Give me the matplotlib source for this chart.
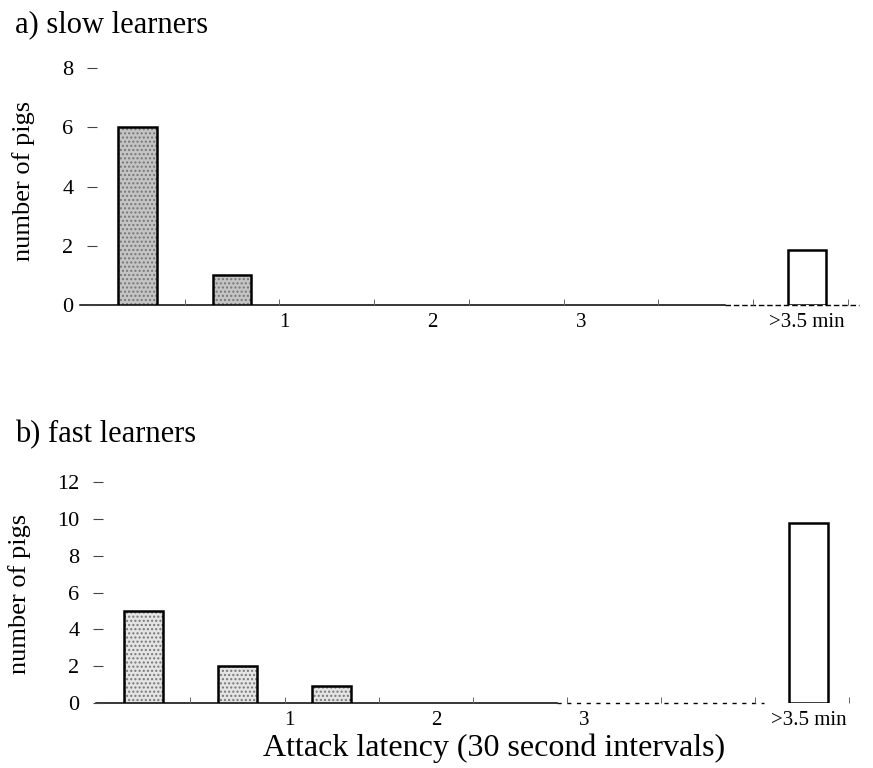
import numpy as np
import matplotlib
matplotlib.use("Agg")
import matplotlib.pyplot as plt

plt.rcParams['font.family'] = ['Liberation Serif', 'DejaVu Serif']

# データ: 30秒区間ごとの豚の頭数
bar_pos = [0, 1, 2, 3, 4, 5, 6, 7.07]          # 各区間の位置 (最後は >3.5 min)
slow_counts = [6, 1, 0, 0, 0, 0, 0, 1.85]
fast_counts = [5, 2, 0.9, 0, 0, 0, 0, 9.8]
tick_pos = [1.55, 3.11, 4.69, 7.07]
tick_labels = ['1', '2', '3', '>3.5 min']
edge_pos = [0.5, 1.5, 2.5, 3.5, 4.5, 5.5, 6.5, 7.5]

W, H = 873, 768
fig = plt.figure(figsize=(W / 100, H / 100), dpi=100)


def px_axes(x0, x1, ytop, ybot):
    return fig.add_axes([x0 / W, 1 - ybot / H, (x1 - x0) / W, (ybot - ytop) / H])


def draw_panel(ax, counts, fill, ymax, yticks, base_lo, base_split, base_hi, tail_style):
    pos = np.array(bar_pos)
    vals = np.array(counts)
    keep = vals > 0
    colors = [fill] * (len(vals) - 1) + ['white']
    colors = np.array(colors)[keep]
    # 点描風の塗り
    ax.bar(pos[keep], vals[keep], width=0.41, color=colors, edgecolor='#777777',
           hatch='....', linewidth=0, zorder=2)
    ax.bar(pos[keep][-1:], vals[keep][-1:], width=0.41, color='white', linewidth=0, zorder=2)
    ax.bar(pos[keep], vals[keep], width=0.41, fill=False, edgecolor='black',
           linewidth=1.8, zorder=3)
    # 基線
    ax.plot([base_lo, base_split], [0, 0], color='black', lw=1.1, clip_on=False, zorder=1)
    ax.plot([base_split, base_hi], [0, 0], color='black', lw=1.0, ls=tail_style,
            clip_on=False, zorder=1)
    ax.set_ylim(0, ymax)
    ax.set_yticks(yticks)
    ax.set_xticks(tick_pos)
    ax.set_xticklabels(tick_labels)
    ax.set_xticks(edge_pos, minor=True)
    for s in ax.spines.values():
        s.set_visible(False)
    ax.tick_params(axis='y', length=7, width=0.8, color='#444444', pad=10, labelsize=16)
    ax.tick_params(axis='x', which='major', length=0, pad=6, labelsize=15)
    ax.tick_params(axis='x', which='minor', direction='in', length=4, width=0.7,
                   color='#666666')


# a) slow learners
ax1 = px_axes(97, 862, 68, 305)
ax1.set_xlim(-0.425, 7.65)
draw_panel(ax1, slow_counts, '#c4c4c4', 8, [0, 2, 4, 6, 8], -0.6, 6.2, 7.62, (0, (4, 2)))

# b) fast learners
ax2 = px_axes(103, 862, 482, 703)
ax2.set_xlim(-0.43, 7.64)
draw_panel(ax2, fast_counts, '#e4e4e4', 12, [0, 2, 4, 6, 8, 10, 12], -0.5, 4.4, 6.6, (0, (3, 4)))

fig.text(15 / W, 1 - 32 / H, 'a) slow learners', fontsize=22, ha='left', va='baseline')
fig.text(15 / W, 1 - 442 / H, 'b) fast learners', fontsize=22, ha='left', va='baseline')
fig.text(24 / W, 1 - 181 / H, 'number of pigs', fontsize=19, rotation=90, ha='center', va='center')
fig.text(20 / W, 1 - 594 / H, 'number of pigs', fontsize=19, rotation=90, ha='center', va='center')
fig.text(494 / W, 1 - 748 / H, 'Attack latency (30 second intervals)', fontsize=23,
         ha='center', va='center')

fig.savefig('out.png', dpi=100)
